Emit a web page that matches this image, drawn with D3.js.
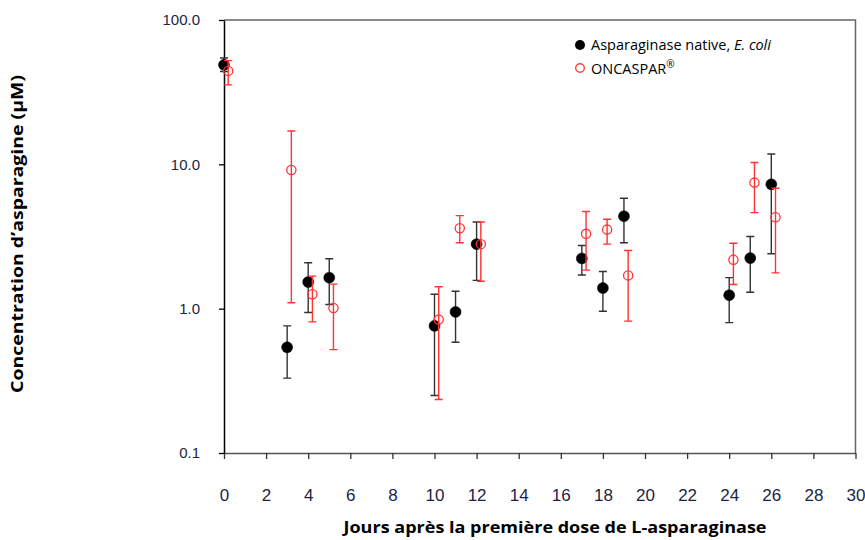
<!DOCTYPE html>
<html>
<head>
<meta charset="utf-8">
<script src="https://cdn.jsdelivr.net/npm/d3@7"></script>
<style>
  body { margin: 0; background: #fff; }
  svg { display: block; }
  .y-tick { font-family: "Liberation Sans", Arial, sans-serif; font-size: 15px; fill: #1c2444; }
  .x-tick { font-family: "Liberation Sans Narrow", "Liberation Sans", Arial, sans-serif; font-size: 17px; fill: #1c2444; }
  .title { font-family: "Open Sans", "Noto Sans", sans-serif; font-weight: bold; font-size: 16.5px; fill: #000; }
  .legend { font-family: "Open Sans", "Noto Sans", sans-serif; font-size: 14.5px; fill: #000; }
</style>
</head>
<body>
<svg width="865" height="540"></svg>
<script>
// Data (days, concentration µM, error bar low/high)
const nativeDays = [0, 3, 4, 5, 10, 11, 12, 17, 18, 19, 24, 25, 26];
const nativeMean = [48.9, 0.54, 1.53, 1.64, 0.76, 0.95, 2.8, 2.23, 1.39, 4.37, 1.24, 2.24, 7.27];
const nativeLow = [44, 0.33, 0.94, 1.07, 0.25, 0.585, 1.57, 1.71, 0.96, 2.86, 0.80, 1.30, 2.40];
const nativeHigh = [54.6, 0.76, 2.08, 2.22, 1.26, 1.32, 3.99, 2.74, 1.81, 5.82, 1.64, 3.16, 11.8];

const oncDays = [0.2, 3.2, 4.2, 5.2, 10.2, 11.2, 12.2, 17.2, 18.2, 19.2, 24.2, 25.2, 26.2];
const oncMean = [44.4, 9.14, 1.26, 1.01, 0.84, 3.61, 2.8, 3.3, 3.53, 1.7, 2.18, 7.47, 4.3];
const oncLow = [35.5, 1.1, 0.81, 0.52, 0.235, 2.86, 1.55, 1.85, 2.8, 0.82, 1.47, 4.63, 1.77];
const oncHigh = [52.3, 17.0, 1.68, 1.48, 1.42, 4.41, 3.99, 4.71, 4.16, 2.53, 2.84, 10.3, 6.82];

const xTicks = d3.range(0, 31, 2);
const yTicks = [0.1, 1, 10, 100];

const margin = { top: 20, right: 9.5, bottom: 87, left: 224 };
const svg = d3.select("svg");
const W = 865, H = 540;

const xScale = d3.scaleLinear().domain([0, 30]).range([margin.left, W - margin.right]);
const yScale = d3.scaleLog().domain([0.1, 100]).range([H - margin.bottom, margin.top]);

// Frame (top and right)
svg.append("path")
  .attr("d", `M${xScale(0)},${yScale(100)}H${xScale(30)}V${yScale(0.1)}`)
  .attr("fill", "none")
  .attr("stroke", "#666")
  .attr("stroke-width", 1.5);

// X axis
const xAxis = d3.axisBottom(xScale).tickValues(xTicks).tickSize(6).tickSizeOuter(0).tickFormat(d3.format("d"));
const gx = svg.append("g").attr("transform", `translate(0, ${yScale(0.1)})`).call(xAxis);
gx.select(".domain").attr("stroke", "#555").attr("stroke-width", 1.5);
gx.selectAll(".tick line").attr("stroke", "#333").attr("stroke-width", 1.3);
gx.selectAll(".tick text").attr("class", "x-tick").attr("y", 36).attr("dy", "0.71em").attr("font-family", null).attr("font-size", null).attr("fill", null);

// Y axis
const yAxis = d3.axisLeft(yScale).tickValues(yTicks).tickSize(5).tickSizeOuter(0).tickFormat(d3.format(".1f"));
const gy = svg.append("g").attr("transform", `translate(${xScale(0)}, 0)`).call(yAxis);
gy.select(".domain").attr("stroke", "#000").attr("stroke-width", 1.5);
gy.selectAll(".tick line").attr("stroke", "#000").attr("stroke-width", 1.3);
gy.selectAll(".tick text").attr("class", "y-tick").attr("x", -24).attr("font-family", null).attr("font-size", null).attr("fill", null);

// Series drawing
function drawSeries(days, mean, low, high, color, filled) {
  const g = svg.append("g");
  const rows = days.map((d, i) => ({ day: d, mean: mean[i], low: low[i], high: high[i] }));
  const cap = 4;
  rows.forEach((r) => {
    const x = xScale(r.day);
    g.append("path")
      .attr("d", `M${x},${yScale(r.low)}V${yScale(r.high)}M${x - cap},${yScale(r.high)}H${x + cap}M${x - cap},${yScale(r.low)}H${x + cap}`)
      .attr("fill", "none")
      .attr("stroke", color)
      .attr("stroke-width", 1.4);
  });
  g.selectAll("circle")
    .data(rows)
    .join("circle")
    .attr("cx", (d) => xScale(d.day))
    .attr("cy", (d) => yScale(d.mean))
    .attr("r", filled ? 5.5 : 4.6)
    .attr("fill", filled ? "#000" : "#fff")
    .attr("fill-opacity", filled ? 1 : 0)
    .attr("stroke", filled ? "#000" : color)
    .attr("stroke-width", filled ? 0.5 : 1.3);
}

drawSeries(nativeDays, nativeMean, nativeLow, nativeHigh, "#333", true);
drawSeries(oncDays, oncMean, oncLow, oncHigh, "#ff3333", false);

// Legend
const lg = svg.append("g");
lg.append("circle").attr("cx", 580).attr("cy", 45).attr("r", 5).attr("fill", "#000");
const t1 = lg.append("text").attr("class", "legend").attr("x", 591).attr("y", 50);
t1.append("tspan").text("Asparaginase native, ");
t1.append("tspan").attr("font-style", "italic").text("E. coli");
lg.append("circle").attr("cx", 580).attr("cy", 68).attr("r", 4.3).attr("fill", "none").attr("stroke", "#ff4040").attr("stroke-width", 1.4);
const t2 = lg.append("text").attr("class", "legend").attr("x", 591).attr("y", 74);
t2.append("tspan").text("ONCASPAR");
t2.append("tspan").attr("font-size", "10px").attr("dy", -6).text("®");

// Axis titles
svg.append("text")
  .attr("class", "title")
  .attr("x", 555)
  .attr("y", 533)
  .attr("text-anchor", "middle")
  .attr("textLength", 423)
  .attr("lengthAdjust", "spacingAndGlyphs")
  .text("Jours après la première dose de L-asparaginase");

svg.append("text")
  .attr("class", "title")
  .attr("transform", `translate(23, 234) rotate(-90)`)
  .attr("text-anchor", "middle")
  .attr("textLength", 318)
  .attr("lengthAdjust", "spacingAndGlyphs")
  .text("Concentration d’asparagine (µM)");
</script>
</body>
</html>
